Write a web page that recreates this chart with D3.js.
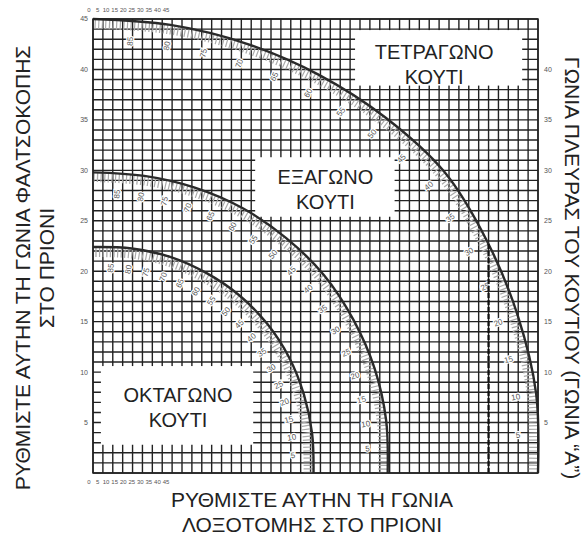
<!DOCTYPE html>
<html>
<head>
<meta charset="utf-8">
<script src="https://cdn.jsdelivr.net/npm/d3@7"></script>
<style>
  body { margin: 0; background: #fff; }
  svg { display: block; font-family: "Liberation Sans", Arial, sans-serif; }
</style>
</head>
<body>
<div class="canvas"></div>
<script>
// grid / axis ticks (degrees)
var gridSteps   = d3.range(0, 46);
var rowTicks    = [0, 5, 10, 15, 20, 25, 30, 35, 40, 45];
var leftTicks   = [5, 10, 15, 20, 25, 30, 35, 40, 45];
var rightTicks  = [5, 10, 15, 20, 25, 30, 35, 40];

// the three curves: radius at each polar angle
var polarAngles = [0, 10, 20, 30, 40, 50, 60, 70, 80, 90];
var squareR     = [45, 45.5, 45.7, 46.0, 46.4, 46.0, 45.6, 45.3, 45.1, 45];
var hexR        = [29.8, 30.1, 30.3, 30.4, 30.5, 30.4, 30.3, 30.1, 29.9, 29.8];
var octR        = [22.3, 22.5, 22.7, 22.9, 23.0, 23.0, 22.9, 22.8, 22.6, 22.4];

// side angle "A" labels along each curve
var sideAngles  = [5, 10, 15, 20, 25, 30, 35, 40, 45, 50, 55, 60, 65, 70, 75, 80, 85];

// dashed guide on the square curve
var guideMiter  = [40];
var guideBevel  = [22.8];

// box captions
var boxNames    = [["ΤΕΤΡΑΓΩΝΟ", "ΚΟΥΤΙ"], ["ΕΞΑΓΩΝΟ", "ΚΟΥΤΙ"], ["ΟΚΤΑΓΩΝΟ", "ΚΟΥΤΙ"]];

var width = 587, height = 535;
var svg = d3.select(".canvas").append("svg")
    .attr("width", width)
    .attr("height", height);

var x = d3.scaleLinear().domain([0, 45]).range([93, 538]);
var y = d3.scaleLinear().domain([0, 45]).range([473, 19]);

// grid
var grid = svg.append("g");
grid.selectAll(".v").data(gridSteps).enter().append("line")
    .attr("x1", function(d){ return x(d); }).attr("x2", function(d){ return x(d); })
    .attr("y1", y(0)).attr("y2", y(45))
    .attr("stroke", "#222").attr("stroke-width", 1.4);
grid.selectAll(".h").data(gridSteps).enter().append("line")
    .attr("y1", function(d){ return y(d); }).attr("y2", function(d){ return y(d); })
    .attr("x1", x(0)).attr("x2", x(45))
    .attr("stroke", "#222").attr("stroke-width", 1.4);

// white caption boxes (knock the grid out)
var boxes = [
  {x0: 26.5, x1: 43.4, y0: 38.4, y1: 43.9, cx: 34.5, dy: 29, names: boxNames[0]},
  {x0: 16.4, x1: 30.5, y0: 25.4, y1: 31.3, cx: 23.5, dy: 27, names: boxNames[1]},
  {x0: 0.8,  x1: 16.2, y0: 2.8,  y1: 10.6, cx: 8.6,  dy: 36, names: boxNames[2]}
];
svg.selectAll(".box").data(boxes).enter().append("rect")
    .attr("x", function(d){ return x(d.x0); })
    .attr("y", function(d){ return y(d.y1); })
    .attr("width", function(d){ return x(d.x1) - x(d.x0); })
    .attr("height", function(d){ return y(d.y0) - y(d.y1); })
    .attr("fill", "#fff");

// curves
var curves = [
  {r: squareR, hatch: 9},
  {r: hexR, hatch: 9},
  {r: octR, hatch: 10}
];
var line = d3.line()
    .x(function(d){ return x(d[0]); })
    .y(function(d){ return y(d[1]); })
    .curve(d3.curveCatmullRom);

function pts(radii, inset) {
  return polarAngles.map(function(a, i){
    var t = a * Math.PI / 180, r = radii[i] - inset;
    return [r * Math.cos(t), r * Math.sin(t)];
  });
}

curves.forEach(function(c){
  var rAt = d3.scaleLinear().domain(polarAngles).range(c.r);

  // hatch band on the inner side
  svg.append("path")
    .attr("d", line(pts(c.r, 0.5)))
    .attr("fill", "none")
    .attr("stroke", "#aaa")
    .attr("stroke-width", c.hatch)
    .attr("stroke-dasharray", "1.2 2.4");

  // curve
  svg.append("path")
    .attr("d", line(pts(c.r, 0)))
    .attr("fill", "none")
    .attr("stroke", "#2a2a2a")
    .attr("stroke-width", 2.4);

  // labels
  svg.append("g").selectAll("text").data(sideAngles).enter().append("text")
    .attr("transform", function(d){
      var t = d * Math.PI / 180, r = rAt(d) - 2.1;
      return "translate(" + x(r * Math.cos(t)) + "," + y(r * Math.sin(t)) + ") rotate(" + (-d) + ")";
    })
    .attr("text-anchor", "middle")
    .attr("dy", "0.35em")
    .attr("font-size", 8)
    .attr("fill", "#555")
    .attr("stroke", "#fff")
    .attr("stroke-width", 2.5)
    .attr("paint-order", "stroke")
    .text(function(d){ return d; });
});

// dashed guide
svg.selectAll(".guide").data(guideMiter).enter().append("line")
    .attr("x1", function(d){ return x(d); }).attr("x2", function(d){ return x(d); })
    .attr("y1", y(0)).attr("y2", function(d, i){ return y(guideBevel[i]); })
    .attr("stroke", "#111").attr("stroke-width", 2.2)
    .attr("stroke-dasharray", "5 2");

// border
svg.append("rect")
    .attr("x", x(0)).attr("y", y(45))
    .attr("width", x(45) - x(0)).attr("height", y(0) - y(45))
    .attr("fill", "none").attr("stroke", "#222").attr("stroke-width", 1.5);

// caption text
boxes.forEach(function(b){
  svg.append("text").attr("x", x(b.cx)).attr("y", y(b.y1) + b.dy)
    .attr("text-anchor", "middle").attr("font-size", 20).attr("fill", "#222")
    .text(b.names[0]);
  svg.append("text").attr("x", x(b.cx)).attr("y", y(b.y1) + b.dy + 25)
    .attr("text-anchor", "middle").attr("font-size", 20).attr("fill", "#222")
    .text(b.names[1]);
});

// tiny 0..45 rows top and bottom
var rowX = d3.scalePoint().domain(rowTicks).range([89, 166]);
[12, 484].forEach(function(py){
  svg.append("g").selectAll("text").data(rowTicks).enter().append("text")
    .attr("x", function(d){ return rowX(d); })
    .attr("y", py)
    .attr("text-anchor", "middle")
    .attr("font-size", 6)
    .attr("fill", "#555")
    .text(function(d){ return d; });
});

// side numbers
svg.append("g").selectAll("text").data(leftTicks).enter().append("text")
    .attr("x", 88).attr("y", function(d){ return y(d); })
    .attr("dy", "0.35em").attr("text-anchor", "end")
    .attr("font-size", 7).attr("fill", "#555")
    .text(function(d){ return d; });
svg.append("g").selectAll("text").data(rightTicks).enter().append("text")
    .attr("x", 544).attr("y", function(d){ return y(d); })
    .attr("dy", "0.35em").attr("text-anchor", "start")
    .attr("font-size", 7).attr("fill", "#555")
    .text(function(d){ return d; });

// axis titles
svg.append("text")
    .attr("transform", "translate(30,268) rotate(-90)")
    .attr("text-anchor", "middle").attr("font-size", 21).attr("fill", "#222")
    .text("ΡΥΘΜΙΣΤΕ ΑΥΤΗΝ ΤΗ ΓΩΝΙΑ ΦΑΛΤΣΟΚΟΠΗΣ");
svg.append("text")
    .attr("transform", "translate(54,268) rotate(-90)")
    .attr("text-anchor", "middle").attr("font-size", 21).attr("fill", "#222")
    .text("ΣΤΟ ΠΡΙΟΝΙ");
svg.append("text")
    .attr("transform", "translate(565,268) rotate(90)")
    .attr("text-anchor", "middle").attr("font-size", 21).attr("fill", "#222")
    .text("ΓΩΝΙΑ ΠΛΕΥΡΑΣ ΤΟΥ ΚΟΥΤΙΟΥ (ΓΩΝΙΑ “Α”)");
svg.append("text")
    .attr("x", 312).attr("y", 507)
    .attr("text-anchor", "middle").attr("font-size", 21).attr("fill", "#222")
    .text("ΡΥΘΜΙΣΤΕ ΑΥΤΗΝ ΤΗ ΓΩΝΙΑ");
svg.append("text")
    .attr("x", 312).attr("y", 532)
    .attr("text-anchor", "middle").attr("font-size", 21).attr("fill", "#222")
    .text("ΛΟΞΟΤΟΜΗΣ ΣΤΟ ΠΡΙΟΝΙ");
</script>
</body>
</html>
